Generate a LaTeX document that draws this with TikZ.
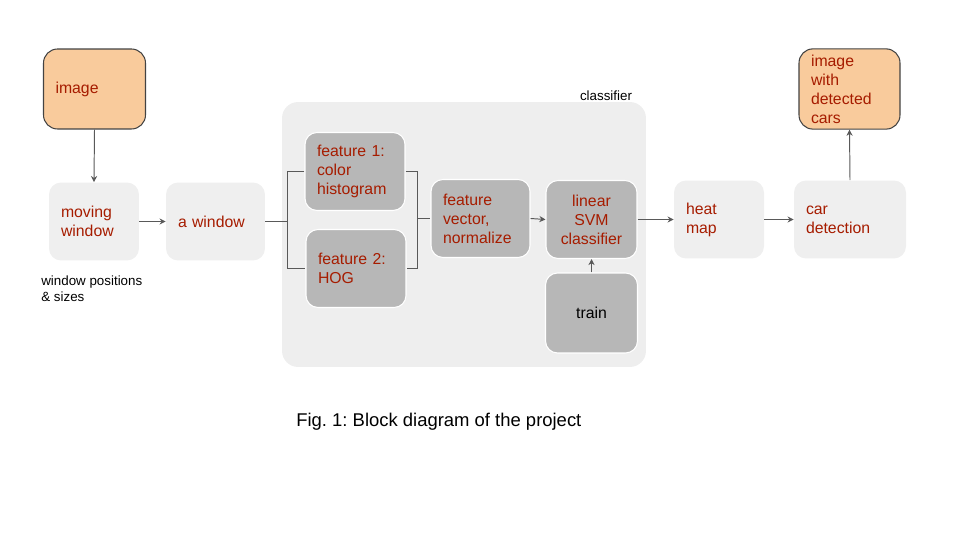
\documentclass[tikz,border=0pt]{standalone}
\usepackage{fontspec}
\setmainfont{Liberation Sans}
\frenchspacing
\usetikzlibrary{positioning, arrows.meta}
\definecolor{SlideOrange}{HTML}{F9CB9C}
\definecolor{SlideLight}{HTML}{EFEFEF}
\definecolor{SlideGroup}{HTML}{EEEEEE}
\definecolor{SlideGray}{HTML}{B7B7B7}
\definecolor{SlideBorder}{HTML}{434343}
\definecolor{SlideLine}{HTML}{595959}
\definecolor{SlideRed}{HTML}{A61C00}

\tikzset{
  box/.style={rounded corners=0.24cm, inner xsep=0.24cm, minimum height=1.56cm, align=left, text=SlideRed, font=\fontsize{9}{10.8}\selectfont},
  lightbox/.style={box, fill=SlideLight},
  graybox/.style={box, fill=SlideGray, draw=white, line width=0.6pt},
  endbox/.style={box, fill=SlideOrange, draw=SlideBorder, line width=0.6pt, rounded corners=0.28cm, minimum height=1.6cm},
  link/.style={draw=SlideLine, line width=0.55pt},
  arrow/.style={link, -{Stealth[length=3.5pt, width=3.5pt]}},
  note/.style={inner sep=0pt, font=\fontsize{7.6}{9.1}\selectfont}
}

\begin{document}
\begin{tikzpicture}[x=0.02cm, y=-0.02cm]
            \useasboundingbox (0,0) rectangle (960,540);

            % Classifier group
            \node[fill=SlideGroup, rounded corners=0.32cm, minimum width=7.28cm, minimum height=5.3cm] (group) at (464,234.5) {};
            \node[note] (grouplabel) at (606,96) {classifier};

            % Input side
            \node[endbox, text width=1.56cm] (img) at (94.5,89) {image};
            \node[lightbox, text width=1.32cm] (moving) at (94,221.5) {moving\\window};
            \node[note, align=left, anchor=west] (positions) at (41,289) {window positions\\\& sizes};
            \node[lightbox, text width=1.5cm] (awin) at (215.5,221.5) {a window};

            % Inside the classifier
            \node[graybox, text width=1.52cm] (feat1) at (355,171.5) {feature 1:\\color\\histogram};
            \node[graybox, text width=1.52cm] (feat2) at (356,268.5) {feature 2:\\HOG};
            \node[graybox, text width=1.5cm] (fvec) at (480.5,218.5) {feature\\vector,\\normalize};
            \node[graybox, text width=1.34cm, align=center] (svm) at (591.5,219.5) {linear\\SVM\\classifier};
            \node[graybox, text width=1.36cm, align=center, minimum height=1.6cm, text=black] (train) at (591.5,313) {train};

            % Output side
            \node[lightbox, text width=1.32cm] (heat) at (719,219.5) {heat\\map};
            \node[lightbox, text width=1.76cm] (cardet) at (850,219.5) {car\\detection};
            \node[endbox, text width=1.54cm] (result) at (849.5,89) {image\\with\\detected\\cars};

            % Caption
            \node[anchor=west, inner sep=0pt, font=\fontsize{10.5}{12.6}\selectfont] (caption) at (296,422) {Fig. 1: Block diagram of the project};

            % Arrows
            \draw[arrow] (img.south) -- (moving.north);
            \draw[arrow] (moving.east) -- (awin.west);
            \path (awin.east) ++(22,0) coordinate (split);
            \draw[link] (awin.east) -- (split);
            \draw[link] (feat1.west) -| (split) |- (feat2.west);
            \path (fvec.west) ++(-13,0) coordinate (merge);
            \draw[link] (feat1.east) -| (merge) |- (feat2.east);
            \draw[link] (merge) -- (fvec.west);
            \draw[arrow] (fvec.east) -- (svm.west);
            \draw[arrow] (train.north) -- (svm.south);
            \draw[arrow] (svm.east) -- (heat.west);
            \draw[arrow] (heat.east) -- (cardet.west);
            \draw[arrow] (cardet.north) -- (result.south);
        \end{tikzpicture}
\end{document}
